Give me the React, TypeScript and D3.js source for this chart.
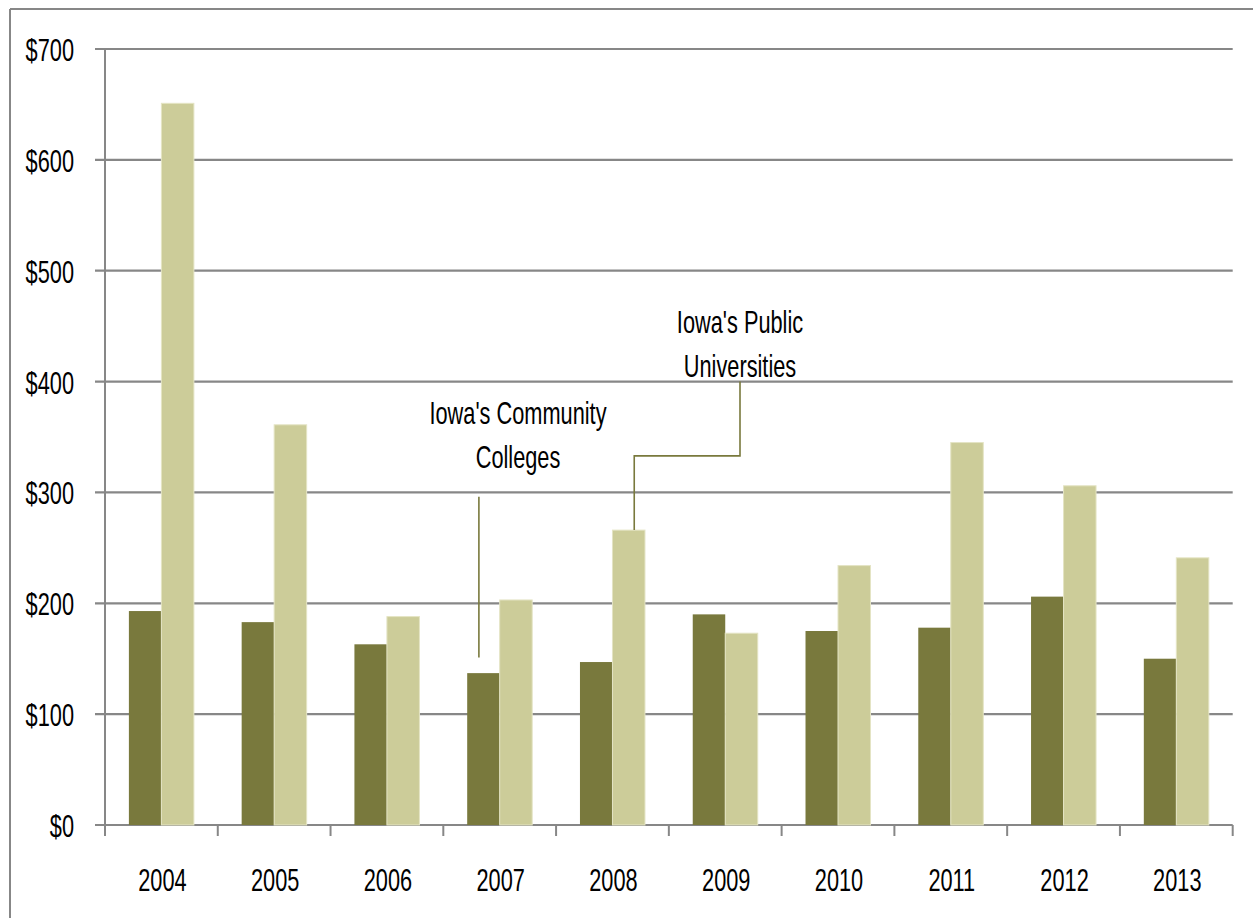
import React from "react";
import * as d3 from "d3";

const years = ["2004", "2005", "2006", "2007", "2008", "2009", "2010", "2011", "2012", "2013"];
const communityColleges = [193, 183, 163, 137, 147, 190, 175, 178, 206, 150];
const publicUniversities = [651, 361, 188, 203, 266, 173, 234, 345, 306, 241];
const yTicks = [0, 100, 200, 300, 400, 500, 600, 700];
const seriesNames = ["Iowa's Community Colleges", "Iowa's Public Universities"];
const seriesColors = ["#79793D", "#CCCC99"];

const W = 1253;
const H = 918;
const FONT = "'Liberation Sans', Arial, sans-serif";

export default function App() {
  const left = 105;
  const right = 1232.7;
  const top = 49;
  const bottom = 825;

  const x0 = d3.scaleBand<string>().domain(years).range([left, right]).padding(0);
  const x1 = d3
    .scaleBand<string>()
    .domain(seriesNames)
    .range([0, x0.bandwidth()])
    .paddingInner(0)
    .paddingOuter(0.735);
  const y = d3.scaleLinear().domain([0, 700]).range([bottom, top]);

  const series = [communityColleges, publicUniversities];
  const grid = "#878787";

  const label = (
    txt: string,
    x: number,
    yy: number,
    anchor: "start" | "middle" | "end",
    key?: string
  ) => (
    <text
      key={key}
      transform={`translate(${x},${yy}) scale(0.68,1)`}
      textAnchor={anchor}
      fontFamily={FONT}
      fontSize={32}
      fill="#000"
    >
      {txt}
    </text>
  );

  const ccX = (x0("2007") as number) + (x1(seriesNames[0]) as number) + x1.bandwidth() * 0.36;
  const ccTopY = y(296);
  const ccBotY = y(151);
  const puBarX = (x0("2008") as number) + (x1(seriesNames[1]) as number) + x1.bandwidth() * 0.67;
  const puBarY = y(publicUniversities[4]);
  const puElbowY = y(333);
  const puTextX = 740;
  const puTopY = y(400);

  return (
    <svg
      width={W}
      height={H}
      style={{ position: "absolute", left: 0, top: 0, background: "#fff" }}
    >
      <line x1={10} y1={9} x2={W} y2={9} stroke={grid} strokeWidth={2} />
      <line x1={10} y1={9} x2={10} y2={H} stroke={grid} strokeWidth={2} />

      {yTicks.map((t) => (
        <line
          key={"g" + t}
          x1={left - 10}
          x2={right}
          y1={y(t)}
          y2={y(t)}
          stroke={grid}
          strokeWidth={2.2}
        />
      ))}
      <line x1={left} x2={left} y1={top} y2={bottom} stroke={grid} strokeWidth={2} />
      {d3.range(years.length + 1).map((i) => {
        const xx = left + i * x0.step();
        return (
          <line key={"xt" + i} x1={xx} x2={xx} y1={bottom} y2={bottom + 11} stroke={grid} strokeWidth={2} />
        );
      })}

      {years.map((yr, i) => (
        <g key={yr} transform={`translate(${x0(yr)},0)`}>
          {series.map((s, si) => (
            <rect
              key={si}
              x={x1(seriesNames[si])}
              y={y(s[i])}
              width={x1.bandwidth()}
              height={y(0) - y(s[i])}
              fill={seriesColors[si]}
              stroke={si === 1 ? "#E4E4C4" : "none"}
              strokeWidth={si === 1 ? 1 : 0}
            />
          ))}
        </g>
      ))}

      {yTicks.map((t) => label(`$${t}`, 74, y(t) + 12, "end", "yl" + t))}
      {years.map((yr) => label(yr, (x0(yr) as number) + x0.bandwidth() / 2 + 1, 891, "middle", "xl" + yr))}

      <line x1={ccX} x2={ccX} y1={ccTopY} y2={ccBotY} stroke="#79793D" strokeWidth={1.6} />
      {label("Iowa's Community", 518, 424, "middle", "a1")}
      {label("Colleges", 518, 468, "middle", "a2")}

      <polyline
        points={`${puTextX},${puTopY} ${puTextX},${puElbowY} ${puBarX},${puElbowY} ${puBarX},${puBarY}`}
        fill="none"
        stroke="#79793D"
        strokeWidth={1.6}
      />
      {label("Iowa's Public", puTextX, 333, "middle", "a3")}
      {label("Universities", puTextX, 377, "middle", "a4")}
    </svg>
  );
}
